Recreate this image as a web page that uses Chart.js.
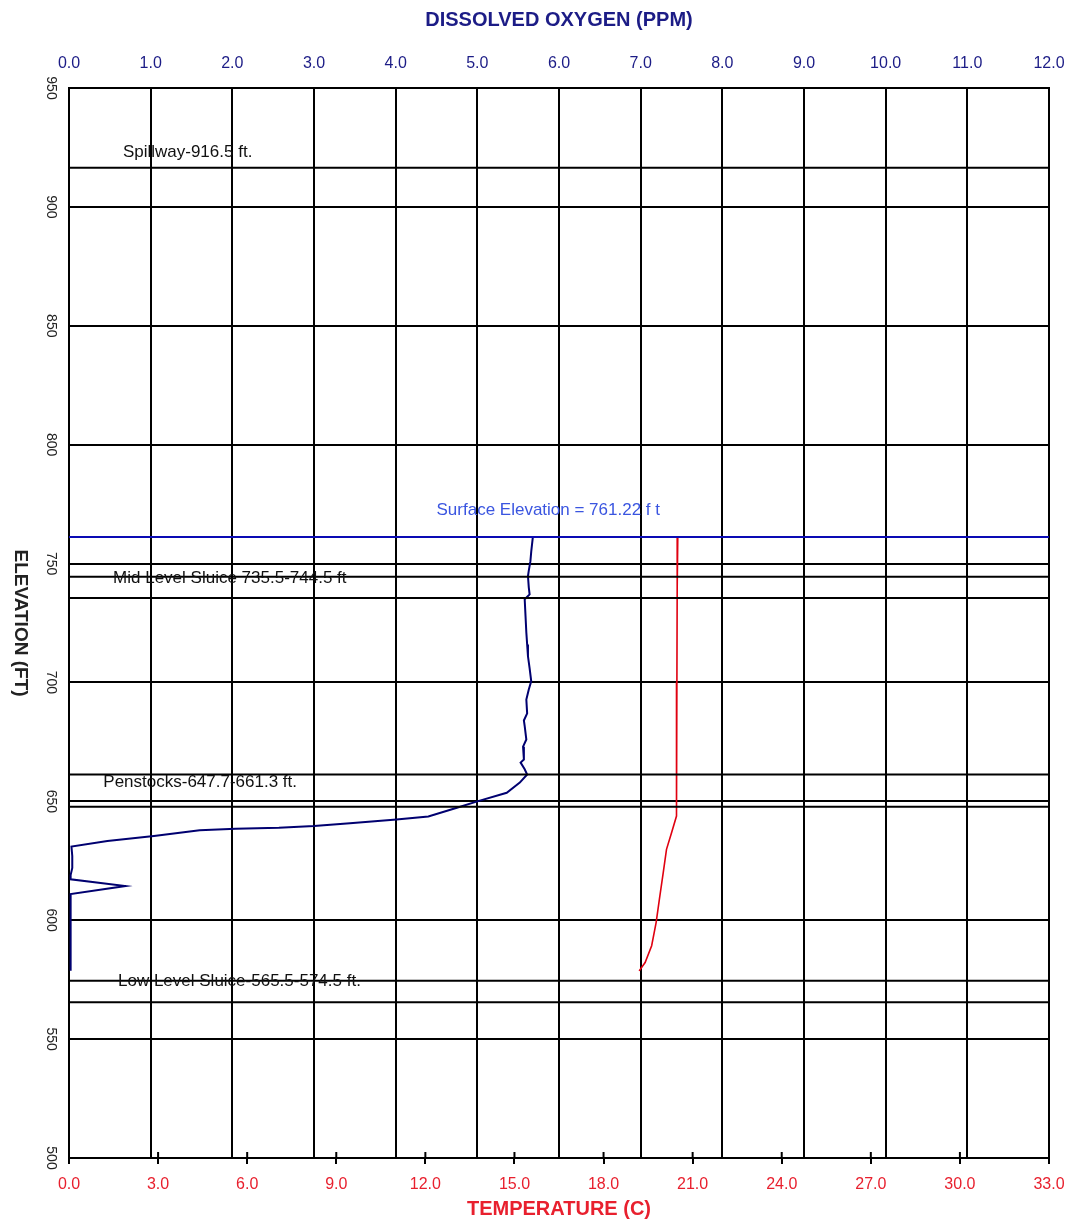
<!DOCTYPE html>
<html>
<head>
<meta charset="utf-8">
<script src="https://cdn.jsdelivr.net/npm/chart.js@4/dist/chart.umd.min.js"></script>
<style>
  html, body { margin: 0; padding: 0; background: #fff; }
  #wrap { width: 1073px; height: 1222px; }
</style>
</head>
<body>
<div id="wrap"><canvas id="chart"></canvas></div>
<script>
// dissolved oxygen profile (ppm) by elevation (ft)
const doElevation = [761.2, 755, 751, 747, 744.7, 740, 737, 735, 728, 721, 716, 711, 706, 700.5, 697, 692.8,
  687, 684, 681.6, 676, 673, 670, 667.6, 666.3, 663.5, 661.3, 657.9, 653.6, 650.1, 647.3, 643.6, 642.4,
  640.8, 639.6, 638.9, 638.5, 637.8, 635.4, 633.3, 631, 627, 622, 619, 617.2, 614.4, 611, 600, 590, 578.7]
const oxygen = [5.68, 5.66, 5.65, 5.63, 5.62, 5.63, 5.64, 5.58, 5.59, 5.60, 5.61, 5.62, 5.64, 5.66, 5.63, 5.60,
  5.61, 5.57, 5.58, 5.60, 5.56, 5.57, 5.57, 5.53, 5.58, 5.61, 5.52, 5.36, 5.01, 4.75, 4.40, 4.01,
  3.44, 3.00, 2.57, 2.04, 1.60, 1.04, 0.47, 0.03, 0.04, 0.04, 0.02, 0.02, 0.69, 0.02, 0.02, 0.02, 0.02]

// temperature profile (C) by elevation (ft)
const tempElevation = [761.2, 740, 700, 660, 650.8, 643.8, 636.8, 629.8, 620, 608.8, 599, 589.3, 582.2, 578.7]
const temperature = [20.50, 20.48, 20.47, 20.46, 20.46, 20.45, 20.29, 20.12, 20.01, 19.88, 19.77, 19.62, 19.40, 19.20]

// dam structures
const structureNames = ['Spillway-916.5 ft.', 'Mid Level Sluice 735.5-744.5 ft', 'Penstocks-647.7-661.3 ft.', 'Low Level Sluice-565.5-574.5 ft.']
const structureElevations = [[916.5], [744.5, 735.5], [661.3, 647.7], [574.5, 565.5]]
const surfaceElevation = 761.22
const surfaceLabel = 'Surface Elevation = 761.22 f t'

const elevationTicks = [500, 550, 600, 650, 700, 750, 800, 850, 900, 950]

const FONT = "'Liberation Sans', Arial, sans-serif"
const NAVY = '#1c1c86'
const RED = '#e8202e'

const toPoints = (xs, ys) => xs.map((x, i) => ({ x: x, y: ys[i] }))

const datasets = []
structureElevations.forEach(function (levels) {
  levels.forEach(function (e) {
    datasets.push({
      data: [{ x: 0, y: e }, { x: 12, y: e }],
      xAxisID: 'xDO', borderColor: '#000', borderWidth: 2, pointRadius: 0, showLine: true
    })
  })
})
datasets.push({
  data: [{ x: 0, y: surfaceElevation }, { x: 12, y: surfaceElevation }],
  xAxisID: 'xDO', borderColor: '#0a0ab4', borderWidth: 2, pointRadius: 0, showLine: true
})
datasets.push({
  data: toPoints(oxygen, doElevation),
  xAxisID: 'xDO', borderColor: '#000070', borderWidth: 2, pointRadius: 0, showLine: true
})
datasets.push({
  data: toPoints(temperature, tempElevation),
  xAxisID: 'xT', borderColor: '#e00010', borderWidth: 1.6, pointRadius: 0, showLine: true
})

// rotated elevation labels, inner tick marks and structure annotations
const annotations = {
  id: 'annotations',
  afterDatasetsDraw(chart) {
    const ctx = chart.ctx
    const y = chart.scales.y
    const x = chart.scales.xDO
    const t = chart.scales.xT
    ctx.save()

    // temperature ticks reach a little into the plot
    ctx.strokeStyle = '#000'
    ctx.lineWidth = 2
    t.ticks.forEach(function (tk) {
      const px = t.getPixelForValue(tk.value)
      ctx.beginPath()
      ctx.moveTo(px, chart.chartArea.bottom - 6)
      ctx.lineTo(px, chart.chartArea.bottom)
      ctx.stroke()
    })

    ctx.fillStyle = '#222'
    ctx.font = '14px ' + FONT
    ctx.textAlign = 'center'
    ctx.textBaseline = 'middle'
    elevationTicks.forEach(function (v) {
      ctx.save()
      ctx.translate(51, y.getPixelForValue(v))
      ctx.rotate(Math.PI / 2)
      ctx.fillText(String(v), 0, 0)
      ctx.restore()
    })
    ctx.save()
    ctx.font = 'bold 19px ' + FONT
    ctx.translate(20, (chart.chartArea.top + chart.chartArea.bottom) / 2)
    ctx.rotate(Math.PI / 2)
    ctx.fillText('ELEVATION (FT)', 0, 0)
    ctx.restore()

    // label anchors: [DO position, elevation]
    const anchors = [[0.66, 923.1], [0.54, 743.7], [0.42, 658], [0.6, 574.4]]
    ctx.textAlign = 'left'
    ctx.font = '17px ' + FONT
    ctx.fillStyle = '#111'
    structureNames.forEach(function (name, i) {
      ctx.fillText(name, x.getPixelForValue(anchors[i][0]), y.getPixelForValue(anchors[i][1]))
    })
    ctx.fillStyle = '#3a55e0'
    ctx.fillText(surfaceLabel, x.getPixelForValue(4.5), y.getPixelForValue(772.3))
    ctx.restore()
  }
}

// keep end labels from pushing the plot edges in
function noEdgePadding(scale) {
  scale.paddingLeft = 0
  scale.paddingRight = 0
}

new Chart(document.getElementById('chart'), {
  type: 'scatter',
  data: { datasets: datasets },
  options: {
    responsive: true,
    maintainAspectRatio: false,
    animation: false,
    layout: { padding: { left: 0, right: 24, top: 0, bottom: 0 } },
    plugins: { legend: { display: false }, tooltip: { enabled: false } },
    scales: {
      y: {
        type: 'linear', position: 'left', min: 500, max: 950,
        ticks: { stepSize: 50, display: false },
        grid: { color: '#000', lineWidth: 2, drawTicks: false },
        border: { color: '#000', width: 2 },
        afterFit(scale) { scale.width = 69 }
      },
      xDO: {
        type: 'linear', position: 'top', min: 0, max: 12,
        ticks: { stepSize: 1, color: NAVY, padding: 15, font: { family: FONT, size: 16 },
          callback: v => v.toFixed(1) },
        grid: { color: '#000', lineWidth: 2, drawTicks: false },
        border: { color: '#000', width: 2 },
        title: { display: true, text: 'DISSOLVED OXYGEN (PPM)', color: NAVY,
          font: { family: FONT, size: 20, weight: 'bold' }, padding: { top: 8, bottom: 0 } },
        afterFit(scale) { scale.height = 88; noEdgePadding(scale) }
      },
      xT: {
        type: 'linear', position: 'bottom', min: 0, max: 33,
        ticks: { stepSize: 3, color: RED, padding: 11, font: { family: FONT, size: 16 },
          callback: v => v.toFixed(1) },
        grid: { drawOnChartArea: false, color: '#000', lineWidth: 2, tickLength: 6 },
        border: { color: '#000', width: 2 },
        title: { display: true, text: 'TEMPERATURE (C)', color: RED,
          font: { family: FONT, size: 20, weight: 'bold' }, padding: { top: 0, bottom: 1 } },
        afterFit(scale) { scale.height = 64; noEdgePadding(scale) }
      }
    }
  },
  plugins: [annotations]
})
</script>
</body>
</html>
